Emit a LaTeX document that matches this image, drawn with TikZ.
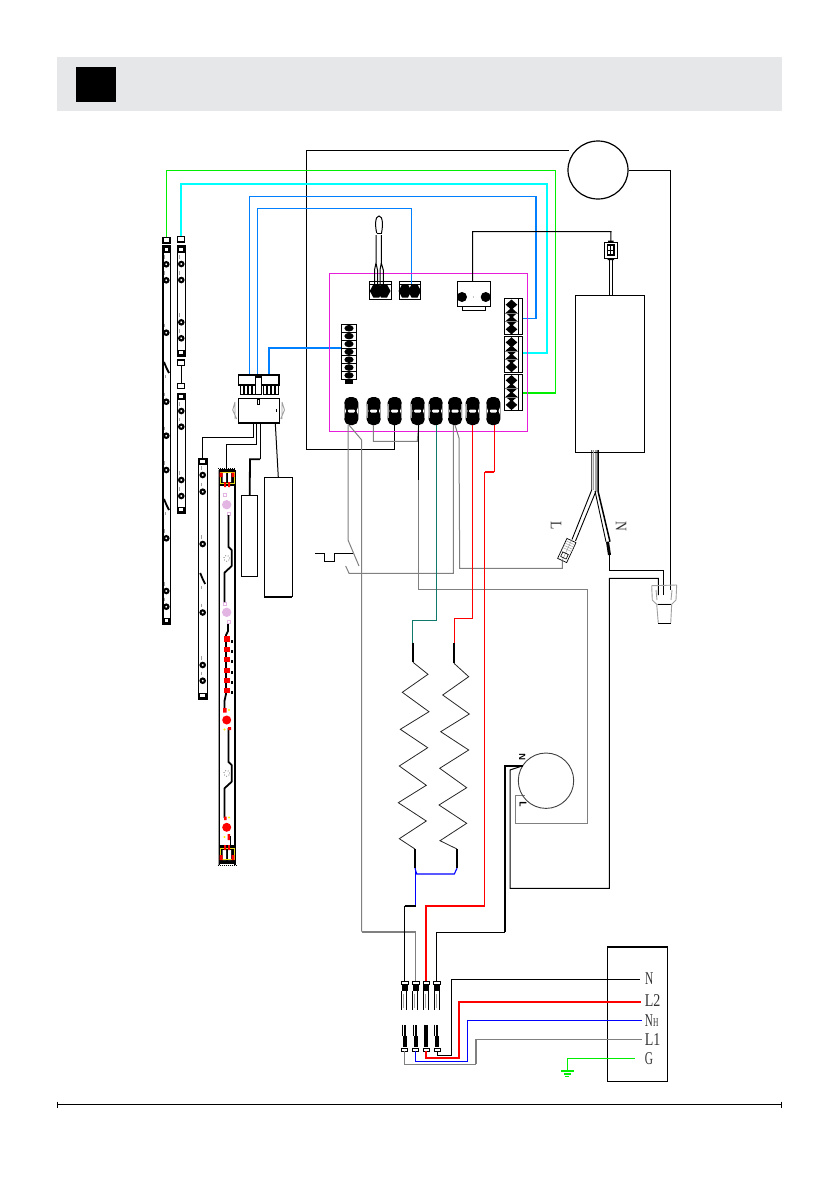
\documentclass[tikz,border=0pt]{standalone}
\usepackage{fontspec}
\usetikzlibrary{shapes.geometric}
\setmainfont{Liberation Serif}
\definecolor{hdr}{HTML}{E6E7E8}
\definecolor{wgrey}{HTML}{808080}
\definecolor{lgrey}{HTML}{A0A0A0}
\definecolor{wblue}{HTML}{0080FF}
\definecolor{ngreen}{HTML}{00EE00}
\definecolor{ncyan}{HTML}{00FFFF}
\definecolor{teal2}{HTML}{0F7A6A}
\definecolor{mag}{HTML}{E61EDC}
\definecolor{pinkc}{HTML}{E3B5E3}
\definecolor{lbl}{HTML}{333333}
\newcommand{\lab}[2]{\scalebox{#1}[1]{\fontsize{18}{18}\selectfont #2}}
\newcommand{\rlab}[1]{\scalebox{.85}[1]{\fontsize{16}{16}\selectfont #1}}
\tikzset{
  wire/.style={line width=1pt,black,line join=miter},
  heavy wire/.style={line width=2pt,black},
  gwire/.style={line width=1pt,wgrey},
  boxed/.style={draw=black,line width=1.2pt,fill=white,inner sep=0pt,outer sep=0pt},
  pillb/.style={fill=black,rounded corners=5.5pt,minimum width=14pt,minimum height=28pt,inner sep=0pt,outer sep=0pt},
  slitb/.style={fill=white,rounded corners=1pt,minimum width=7pt,minimum height=3pt,inner sep=0pt},
  labn/.style={inner sep=0pt,text=lbl},
  ring/.style={draw=black,line width=2.1pt,fill=white},
  ledtrace/.style={line width=1.8pt,black,line join=round},
  redled/.style={fill=red,draw=none},
  yel/.style={draw=yellow!90!black,line width=1pt},
  coil/.style={line width=.8pt,black!85},
  capnode/.style={draw=black,line width=1.3pt,fill=white,minimum width=7pt,minimum height=5.5pt,inner sep=0pt},
}
\newcommand{\stripring}[2]{%
  \draw[lgrey,line width=1pt] (#1-1.5,#2-9) -- (#1-1.5,#2-5.5);
  \draw[ring] (#1,#2) circle (2.2pt);}
\newcommand{\stripz}[2]{%
  \draw[black,line width=1.8pt] (#1-2.5,#2-5) -- (#1,#2+1) -- (#1+2.5,#2+6);
  \draw[lgrey,line width=.8pt] (#1-1,#2+8) -- (#1-1,#2+11);}
\newcommand{\capbox}[3]{%
  \fill[black] (#1,#3) rectangle (#2,#3+6.5);
  \fill[white] (#1+2,#3+2) rectangle (#2-2,#3+5);}
\newcommand{\capinv}[3]{%
  \fill[black] (#1,#3) rectangle (#2,#3-6.5);
  \fill[white] (#1+2,#3-2) rectangle (#2-2,#3-5);}
\newcommand{\dblob}[2]{%
  \fill[black] (#1-6.5,#2) -- (#1-3,#2-6.5) -- (#1+3,#2-6.5) -- (#1+6.5,#2) -- (#1+3,#2+6.5) -- (#1-3,#2+6.5) -- cycle;}
\newcommand{\tstop}[1]{%
  \draw[black,line width=.7pt] (#1-3.2,981.5) rectangle (#1+3.2,984.5);
  \fill[black] (#1-3,984.5) rectangle (#1+3,991);
  \draw[black,line width=1pt] (#1-2.8,991) -- (#1-2.8,1010);
  \draw[black,line width=1pt] (#1+2.2,991) -- (#1+2.2,1010);
  \draw[lgrey,line width=1pt] (#1-1,994) -- (#1-1,1008);}
\newcommand{\tsbot}[1]{%
  \fill[black] (#1-2,1036) rectangle (#1+2,1047);
  \fill[black] (#1-1,1025) rectangle (#1+1.2,1036);
  \draw[black,line width=.8pt] (#1-2.2,1024.5) -- (#1-2.2,1036);
  \draw[black,line width=.7pt] (#1-3,1048) rectangle (#1+3,1051);}
\begin{document}
\begin{tikzpicture}[x=1pt,y=-1pt]
\useasboundingbox (0,0) rectangle (840,1192);

% header and footer
\fill[hdr] (57,57) rectangle (782,110.7);
\node[fill=black,minimum width=40pt,minimum height=35pt,inner sep=0pt] (hsq) at (95.7,84.5) {};
\coordinate (fl) at (57.5,1104.5);
\coordinate (fr) at (781.5,1104.5);
\draw[black,line width=1pt] (fl) -- (fr);
\draw[black,line width=.7pt] ([yshift=3pt]fl) -- ([yshift=-3pt]fl) ([yshift=3pt]fr) -- ([yshift=-3pt]fr);

% top fan
\node[draw=black,line width=1.2pt,ellipse,minimum width=60pt,minimum height=58pt,inner sep=0pt] (fan) at (598,170) {};
\coordinate (fanw) at (568.6,150);
\draw[wire] (fanw) -- (306.5,150) -- (306.5,449) -- (394,449) -- (394,425);
\draw[wire] (fan.east) -- (670,170) -- (670,590);

% strip wires
\draw[line width=1.3pt,ngreen] (166.3,237) -- (166.3,170.3) -- (555.7,170.3) -- (555.7,393) -- (518,393);
\draw[line width=1.9pt,ncyan] (181.3,237) -- (181.3,184) -- (546.7,184) -- (546.7,352.7) -- (519,352.7);
\draw[line width=1.2pt,wblue] (249.3,376) -- (249.3,196.7) -- (536,196.7) -- (536,318.3) -- (517,318.3);
\draw[line width=1.2pt,wblue] (257.3,376) -- (257.3,208.7) -- (411.3,208.7) -- (411.3,283);
\draw[line width=2pt,wblue] (269.3,376) -- (269.3,348) -- (341.3,348);

% control board
\node[draw=mag,line width=1pt,minimum width=198pt,minimum height=158pt,inner sep=0pt] (board) at (428.3,352.3) {};
\draw[line width=1.2pt,wblue] (411.3,274) -- (411.3,283);
\draw[line width=1.3pt,ngreen] (527.3,393) -- (518,393);
\draw[line width=1.9pt,ncyan] (527.3,352.7) -- (519,352.7);
\draw[line width=1.2pt,wblue] (527.3,318.3) -- (517,318.3);

% relay and sensor plug
\node[boxed,minimum width=33.4pt,minimum height=25pt] (relay) at (474,294.2) {};
\coordinate (relayw) at (472.7,281.7);
\draw[black,line width=.8pt] (462.3,306.7) -- (462.3,310) -- (485.7,310) -- (485.7,306.7);
\fill[black] (462,297) circle (5pt) (485.7,297) circle (5pt) (473.5,297) circle (.4pt);
\node[boxed,minimum width=13pt,minimum height=15.6pt] (sensor) at (610.8,250.5) {};
\draw[black,line width=1.2pt] (607.5,245) rectangle (614,255);
\draw[black,line width=1pt] (610.8,245) -- (610.8,255) (607.5,250) -- (614,250);
\fill[black] (608,240.5) rectangle (613.5,242.7) (607.5,258) rectangle (614,260);
\draw[wire] (relayw) -- (472.7,231.7) -- (611,231.7) -- (sensor.north);

% power box
\node[boxed,minimum width=69pt,minimum height=157pt] (psu) at (609.8,373.8) {};
\draw[black,line width=1pt] (609.3,258) -- (609.3,295.3) (612.7,258) -- (612.7,295.3);

% thermostat connector and probe
\node[boxed,line width=.8pt,minimum width=22.3pt,minimum height=18.3pt] (cn1) at (380.2,290.2) {};
\node[boxed,line width=.8pt,minimum width=20.7pt,minimum height=18.3pt] (cn2) at (409.7,290.2) {};
\draw[black,line width=.7pt] (369,284.5)--(391.3,284.5) (399.3,284.5)--(420,284.5);
\dblob{376.3}{291}\dblob{384}{291}\dblob{405}{291}\dblob{414.5}{291}
\draw[line width=1.2pt,wblue] (411.3,274) -- (411.3,284);
\draw[black,line width=1pt] (376.7,233) .. controls (375,226) and (375,216) .. (379,216) .. controls (383,216) and (383,226) .. (381.5,233);
\draw[black,line width=1pt] (376.7,233) -- (381.5,233);
\draw[black,line width=1pt] (376,235) -- (376,263) -- (374.5,270) -- (374.5,288)
      (381.3,235) -- (381.3,263) -- (383.3,270) -- (383.3,288)
      (376,263) -- (377.5,270) -- (377.5,288) (381.3,263) -- (380,270) -- (380,288);

% seven-way connector
\node[boxed,line width=.9pt,minimum width=15.4pt,minimum height=55pt] (cn7) at (349,351.8) {};
\foreach \i in {1,...,7}{
  \fill[black] (349,324.3+7.86*\i-3.93) ellipse (4.6pt and 3.3pt);
  \draw[black,line width=.6pt] (341.3,324.3+7.86*\i) -- (356.7,324.3+7.86*\i);
}
\fill[black] (345,379.3) rectangle (353,384);

% eight pills
\foreach \n/\x in {1/351.3,2/373.7,3/394.7,4/417.7,5/435.7,6/455,7/472.7,8/493.3}{
  \node[pillb] (c\n) at (\x,411) {};
  \fill[white] (\x-7.2,406) -- (\x-5.2,411) -- (\x-7.2,416) -- cycle (\x+7.2,406) -- (\x+5.2,411) -- (\x+7.2,416) -- cycle;
  \draw[lgrey,line width=.7pt] (\x-6.7,404) -- (\x-6.7,418) (\x+6.7,404) -- (\x+6.7,418);
  \node[slitb] (s\n) at (\x,411) {};
}

% three right connectors
\foreach \n/\y in {1/298.7,2/336.4,3/374.3}{
  \node[boxed,line width=.9pt,anchor=north west,minimum width=18.4pt,minimum height=36.2pt] (r\n) at (504.3,\y) {};
  \draw[black,line width=.7pt] (518,\y) -- (518,\y+36.2);
  \foreach \k in {0,1,2,3}{
    \fill[black] (505.7,\y+6+8.2*\k) -- (511.5,\y+.8+8.2*\k) -- (517.3,\y+6+8.2*\k) -- (511.5,\y+11.2+8.2*\k) -- cycle;
  }
  \draw[wgrey,line width=.7pt] (505,\y+14.5) -- (518,\y+14.5) (505,\y+23) -- (518,\y+23);
}

% grey links under the pills
\draw[gwire] (348,425) -- (348,540) -- (359,566);
\draw[gwire] (349,425) -- (361.7,440) -- (361.7,931.7);
\draw[line width=1.6pt,wgrey] (361.7,931.7) -- (415.7,931.7);
\draw[gwire] (415.7,931.7) -- (415.7,982);
\draw[gwire] (373.3,425) -- (373.3,441.3) -- (417.3,441.3) -- (418.7,425);
\draw[wire] (418.7,425) -- (418.7,480);
\draw[gwire] (418.7,480) -- (418.7,589.3) -- (587.3,589.3) -- (587.3,823.3) -- (515.7,823.3) -- (515.7,795.3) -- (525,795.3);
\draw[gwire] (453.3,425) -- (453.3,573.3) -- (349,573.3) -- (345.7,566);
\draw[gwire] (455,425) -- (459,438) -- (459.7,568.3) -- (562.3,568.3) -- (562.3,560.7);
\draw[wire] (315,553.3) -- (324.3,553.3) -- (324.3,561.7) -- (334.7,561.7) -- (334.7,553.3) -- (353.3,553.3);

% heater wires
\draw[line width=1.1pt,teal2] (436.7,425) -- (436.7,620.3) -- (412.7,620.3) -- (412.7,643);
\draw[line width=1.1pt,red] (472.7,425) -- (472.7,618.3) -- (454.3,618.3) -- (454.3,643);
\draw[line width=1.2pt,red] (494.3,425) -- (494.3,471.7);
\draw[line width=1.6pt,red] (494.3,471.7) -- (484.7,471.7);
\draw[line width=1.2pt,red] (484.7,471.7) -- (484.7,905.7);
\draw[line width=2pt,red] (484.7,905.7) -- (426,905.7) -- (426,982);
\draw[heavy wire] (412.7,642.7) -- (412.7,662.3);
\draw[heavy wire] (454,643) -- (454,663.3);
\draw[coil] (413,662.3) -- (428,674.3) -- (402.3,692.3) -- (429,711.7) -- (400.3,729.3) -- (427.7,747.7) -- (399.3,766) -- (426.3,785.3) -- (398.3,802.7) -- (426.3,821) -- (399.3,838.7) -- (415,849);
\draw[coil] (454,663.3) -- (468.7,676.7) -- (442.7,695) -- (469.3,714) -- (440.7,731.7) -- (468.7,750) -- (439.7,768.3) -- (466.7,787.7) -- (439,805) -- (466.7,823.3) -- (440,840.7) -- (457,849);
\draw[heavy wire] (415,849) -- (415,868.3);
\draw[heavy wire] (457,849) -- (457,868.3);
\draw[line width=1.1pt,blue] (415,868.3) -- (416.7,874) -- (454.3,874) -- (457,868.3);
\draw[line width=1.1pt,blue] (415.5,868.3) -- (415.5,905.7);
\draw[line width=2pt,black] (415.7,905.7) -- (404.7,905.7);
\draw[wire] (404.7,905.7) -- (404.7,982);

% lower motor
\node[draw=black!75,line width=.9pt,circle,minimum size=55.4pt,inner sep=0pt] (mot) at (546,780.7) {};
\draw[line width=1.8pt,black] (523,765.7) -- (505,765.7) -- (505,932.3);
\draw[wire] (505,932.3) -- (436.7,932.3) -- (436.7,982);
\draw[wire] (523,765.7) -- (510,770) -- (510,888.3) -- (609.3,888.3) -- (609.3,578.3) -- (658.3,578.3) -- (658.3,595);
\node[inner sep=0pt,rotate=-90] (mn) at (522.3,756.7) {\sffamily\bfseries\fontsize{9}{9}\selectfont N};
\node[inner sep=0pt,rotate=-90] (ml) at (523,804.5) {\sffamily\bfseries\fontsize{10}{10}\selectfont L};

% psu output
\draw[black,line width=.9pt] (591.7,450) -- (591.7,490) -- (572,539.5) (596,450) -- (596,491) -- (575.5,541);
\draw[lgrey,line width=1pt] (593.5,450) -- (593.5,490);
\draw[black,line width=1.5pt] (598,450) -- (598,491) -- (610,541.7);
\draw[black,line width=.9pt] (595,491) -- (606,541.7);
\draw[line width=3pt,black] (607.5,541.7) -- (609.5,555);
\draw[wire] (609.3,555) -- (609.3,570.7) -- (663.3,570.7) -- (663.3,595);
\node[draw=black,line width=.7pt,fill=white,minimum width=22pt,minimum height=10pt,inner sep=0pt,rotate=65] (lplug) at (566.8,550.5) {};
\begin{scope}[shift={(566.8,550.5)},rotate=65]
  \draw[lgrey,line width=.5pt] (1,-5) -- (1,5) (3.5,-5) -- (3.5,5) (6,-5) -- (6,5) (8.5,-5) -- (8.5,5) (-3,-5) -- (-3,5) (-11,0) -- (11,0);
  \draw[black,line width=.6pt] (-8,-3) rectangle (-3,3);
\end{scope}
\node[labn,rotate=-90] (ll) at (556,525.7) {\rlab{L}};
\node[labn,rotate=-90] (ln) at (621,526) {\rlab{N}};

% wire nut
\draw[lgrey,line width=.9pt,line join=round] (651.7,585.7) -- (676.7,585) -- (676,600) -- (671.7,604.3) -- (656.7,604.3) -- (652.3,600) -- cycle
   (656.7,604.3) -- (658.3,623.3) (671.7,604.3) -- (670.7,623.3) (656,590) -- (657,600) (672,590) -- (671,600);
\draw[black,line width=.9pt] (658.3,604.3) -- (670.7,604.3) (658.3,623.3) -- (670.7,623.3);

% plug and socket
\node[boxed,minimum width=40.5pt,minimum height=10.3pt] (plug) at (258.8,379.9) {};
\draw[black,line width=2pt] (238.3,375) -- (279.3,375);
\foreach \x in {240,244,248,252,263,267,271,275}{
  \draw[black,line width=1pt] (\x,385) -- (\x,394) -- (\x+3.6,394);
  \draw[black,line width=1pt] (\x+3.6,385) -- (\x+3.6,394);
}
\node[boxed,line width=.9pt,minimum width=6.4pt,minimum height=18pt] (tab) at (258.5,385) {};
\fill[black] (255.3,375.5) rectangle (261.7,378);
\node[boxed,minimum width=41pt,minimum height=25pt] (sock) at (258.8,410.8) {};
\draw[black,line width=2pt] (238.3,423.3) -- (279.3,423.3);
\draw[black,line width=.7pt] (257.5,399) rectangle (259.5,404);
\draw[black,line width=1pt] (276.5,409) -- (276.5,412);
\draw[lgrey,line width=.9pt] (235,402) -- (232.7,410) -- (236.7,419) (235,402) -- (235,419) (282,402) -- (284.5,410) -- (280.7,419) (282,402) -- (282,419);

\draw[wire] (253.3,423.3) -- (253.3,437.3) -- (202.3,437.3) -- (202.3,458);
\draw[wire] (256.3,423.3) -- (256.3,444) -- (226,444) -- (226,470);

% boxes
\node[boxed,minimum width=16pt,minimum height=81.4pt] (box1) at (249.7,536) {};
\node[boxed,minimum width=28pt,minimum height=119.4pt] (box2) at (278.3,537) {};
\draw[black,line width=2pt] (264.3,596.7) -- (292.3,596.7);
\draw[wire] (260,423.3) -- (260,459.3);
\draw[line width=1.8pt] (260,459.3) -- (250,459.3) -- (box1.north);
\draw[wire] (275.3,423.3) -- (box2.north);

% led strips
\foreach \a/\b/\c/\d in {162.7/170.3/246/624.3,177.3/185.3/246/356,177.3/185.3/393.3/513.3,198.3/207.3/458.3/699.3}{
  \draw[black,line width=1.2pt,fill=white] (\a,\c) rectangle (\b,\d);
  \capbox{\a}{\b}{\c}
  \capinv{\a}{\b}{\d}
}
\draw[black,line width=1.8pt] (163.2,246) -- (163.2,624.3);
\node[capnode] (cp1) at (166.5,240.3) {};
\node[capnode] (cp2) at (181.3,239.3) {};
\node[capnode] (cp3) at (181.3,362.7) {};
\node[capnode] (cp4) at (181.3,386) {};
\draw[black,line width=1pt] (cp3) -- (cp4);
\foreach \y in {264.3,280.3,332.7,401.7,435.7,470,538.3,591,606.7}{\stripring{166.3}{\y}}
\foreach \y in {264,280,322.3,338.3,411,426.7,480,496}{\stripring{181.3}{\y}}
\foreach \y in {475,491.7,544,612.5,665,680.7}{\stripring{202.7}{\y}}
\stripz{166.5}{367}
\stripz{166.5}{504}
\stripz{202.7}{578}

% thick led board
\fill[black] (219,469) rectangle (235,486);
\fill[black] (219,845) rectangle (235,864);
\draw[lgrey,line width=1.5pt] (218.7,470) -- (218.7,865);
\draw[black,line width=.8pt] (219.8,470) -- (219.8,865);
\draw[black,line width=2pt] (234.5,470) -- (234.5,865);
\draw[black,line width=1pt,densely dotted] (218,468) -- (236,468) (217.5,865.5) -- (236.5,865.5);
\fill[white] (222.5,473) rectangle (226,482) (228,473) rectangle (231,482);
\fill[white] (222.5,850) rectangle (226,860) (228,850) rectangle (231,860);
\draw[yel] (220,472.5) rectangle (234,483);
\draw[yel] (220,848) rectangle (234,859);
\fill[redled] (219.7,472.5) rectangle (222.5,477) (231.5,472.5) rectangle (234.3,477) (224,482) rectangle (226.2,487) (228,482) rectangle (230,487);
\fill[redled] (219.7,855) rectangle (222.5,860) (231.5,855) rectangle (234.3,860) (224,845) rectangle (226.2,850) (228,845) rectangle (230,850);
\fill[pinkc] (226.7,504.7) circle (4.7pt) (226.7,612.3) circle (4.7pt);
\draw[pinkc,line width=.8pt] (223.5,493.5) rectangle (226,496.5) (227.5,512) rectangle (230,515) (223.5,602) rectangle (226,605) (227.5,620.5) rectangle (230,623.5);
\draw[ledtrace] (228.5,515) -- (228.5,547) -- (231.7,550) -- (231.7,566) -- (224.5,572.7) -- (224.5,602);
\draw[ledtrace] (228.5,728) -- (228.5,762) -- (231.7,765) -- (231.7,781.7) -- (224.5,788.3) -- (224.5,818);
\draw[black,line width=.6pt,dotted] (226.7,558.3) circle (2.9pt) (226.7,773.3) circle (2.9pt);
\draw[ledtrace] (228,624) -- (228,631) -- (226,635) -- (226,694) -- (224.5,701) -- (224.5,708);
\foreach \y in {639,649.3,659.7,670.3,680.3,690.7}{
  \fill[redled] (223.7,\y-2.7) rectangle (229.7,\y+2.7);
  \fill[black] (230.5,\y+.5) rectangle (233,\y+3.5);
}
\fill[redled] (223,708) rectangle (226.5,712.7) (228,727) rectangle (231,730) (224,816.5) rectangle (226.5,820);
\fill[redled] (226.7,720) circle (4.5pt) (226.7,827.3) circle (4.5pt) (227.5,834) rectangle (230,840);
\fill[yellow] (229,710) circle (1.1pt) (224.5,729.5) circle (1.1pt) (229,817.5) circle (1.1pt) (224.5,837) circle (1.1pt);
\draw[black,line width=1.2pt] (230.5,836) -- (230.5,848);

% terminals
\foreach \x in {404.7,415.7,426.3,437}{\tstop{\x}\tsbot{\x}}

% supply box
\node[boxed,minimum width=59.6pt,minimum height=134.3pt] (sup) at (637.5,1014.2) {};
\draw[black,line width=2.4pt] (607.7,947) -- (667.3,947);
\node[labn] (sn) at (649.3,979) {\lab{.63}{N}};
\node[labn] (sl2) at (652.7,1001) {\lab{.78}{L2}};
\node[labn] (snh) at (651.7,1021) {\lab{.62}{N{\fontsize{12}{12}\selectfont H}}};
\node[labn] (sl1) at (652.7,1039.3) {\lab{.78}{L1}};
\node[labn] (sg) at (649,1058.3) {\lab{.63}{G}};
\coordinate (en) at (640,979.3);
\coordinate (el2) at (641,1002);
\coordinate (enh) at (641.7,1020.3);
\coordinate (el1) at (641.7,1039.3);
\coordinate (eg) at (635,1058.3);

\draw[wire] (437,1051) -- (437,1055) -- (451.3,1055) -- (451.3,979.3) -- (en);
\draw[line width=2pt,red] (426.3,1051) -- (426.3,1058.3) -- (459.3,1058.3) -- (459.3,1002) -- (el2);
\draw[line width=1.1pt,blue] (415.7,1051) -- (415.7,1061.3) -- (467.3,1061.3) -- (467.3,1020.3) -- (enh);
\draw[line width=1.1pt,wgrey] (404.7,1051) -- (404.7,1064.3) -- (476,1064.3);
\draw[line width=1.8pt,wgrey] (476,1064.3) -- (476,1039.3);
\draw[line width=1.1pt,wgrey] (476,1039.3) -- (el1);
\draw[line width=1.1pt,ngreen] (eg) -- (567.3,1058.3) -- (567.3,1070);
\draw[line width=1.6pt,ngreen] (561,1071) -- (573.5,1071);
\draw[line width=1.2pt,ngreen] (563.5,1074) -- (571,1074);
\draw[line width=1.2pt,ngreen] (565.3,1076.5) -- (569.3,1076.5);
\end{tikzpicture}
\end{document}
